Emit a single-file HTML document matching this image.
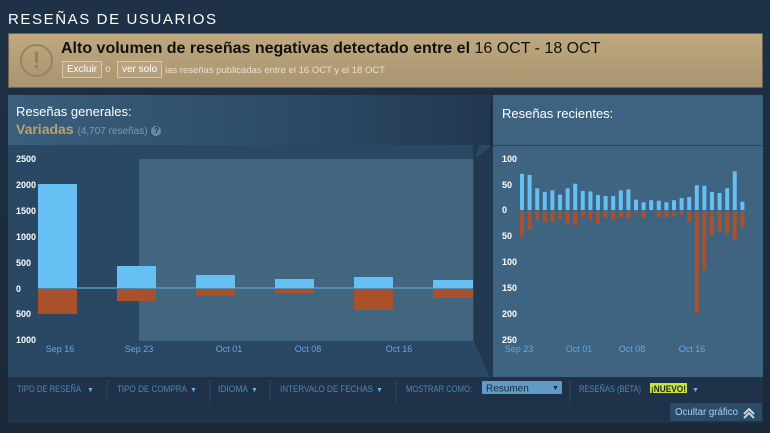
<!DOCTYPE html>
<html><head><meta charset="utf-8"><style>
*{margin:0;padding:0;box-sizing:border-box}
body{width:770px;height:433px;background:#1b2838;font-family:"Liberation Sans",Arial,sans-serif;position:relative;overflow:hidden}
.a{position:absolute;white-space:nowrap}
</style></head><body>
<div class="a" style="left:0;top:0;width:770px;height:433px;background:linear-gradient(#1e3146,#1b2838)"></div>
<div class="a" style="left:8px;top:11px;color:#fff;font-size:15px;letter-spacing:1.6px">RESEÑAS DE USUARIOS</div>
<div class="a" style="left:8px;top:33px;width:755px;height:55px;background:linear-gradient(#c0a97f,#a99470);border:1px solid #6f6250"></div>
<div class="a" style="left:20px;top:44px;width:33px;height:33px;border:2px solid #948466;border-radius:50%;color:#948466;font-size:24px;font-weight:bold;text-align:center;line-height:29px">!</div>
<div class="a" style="left:61px;top:40px;font-size:16px;color:#111"><b>Alto volumen de reseñas negativas detectado entre el</b> 16 OCT - 18 OCT</div>
<div class="a" style="left:62px;top:61px;height:17px;padding:0 4px;border:1px solid #d6c7a8;color:#fff;font-size:10px;line-height:15px;background:rgba(255,255,255,.08)">Excluir</div>
<div class="a" style="left:105px;top:64px;color:#e6dcc6;font-size:10px">o</div>
<div class="a" style="left:117px;top:61px;height:17px;padding:0 4px;border:1px solid #d6c7a8;color:#fff;font-size:10px;line-height:15px;background:rgba(255,255,255,.08)">ver solo</div>
<div class="a" style="left:165px;top:65px;color:#e8dfcc;font-size:9.5px">las reseñas publicadas entre el 16 OCT y el 18 OCT</div>

<div class="a" style="left:8px;top:95px;width:482px;height:50px;background:linear-gradient(90deg,#3a5f7d,#2a4660 70%,#22384f)"></div>
<div class="a" style="left:16px;top:104px;color:#fff;font-size:13px">Reseñas generales:</div>
<div class="a" style="left:16px;top:121px;color:#b9a074;font-size:14px;font-weight:bold">Variadas <span style="font-weight:normal;font-size:10px;color:#7a9bb8">(4,707 reseñas)</span> <span style="display:inline-block;width:10px;height:10px;border-radius:50%;background:#6c8aa3;color:#223;font-size:8px;text-align:center;line-height:10px;vertical-align:1px">?</span></div>
<div class="a" style="left:8px;top:145px;width:482px;height:232px;background:#2a4763"></div>

<div class="a" style="left:493px;top:95px;width:270px;height:50px;background:#3d6381"></div>
<div class="a" style="left:502px;top:106px;color:#fff;font-size:13px">Reseñas recientes:</div>
<div class="a" style="left:493px;top:145px;width:270px;height:232px;background:#3e6482;border-top:1px solid #2a4560"></div>

<svg class="a" style="left:0;top:0" width="770" height="433">
<polygon points="474,159 493,145 493,377 490,377 474,341" fill="#22384f"/>
<polygon points="473,95 493,95 475,159 473,159" fill="#22384f"/>
<rect x="139" y="159" width="334" height="182" fill="#426580"/>
<g font-size="9" fill="#fff" font-weight="bold">
<text x="16" y="162">2500</text><text x="16" y="188">2000</text><text x="16" y="214">1500</text><text x="16" y="240">1000</text><text x="16" y="266">500</text><text x="16" y="292">0</text><text x="16" y="317">500</text><text x="16" y="343">1000</text>
</g>
<line x1="38" y1="288" x2="473" y2="288" stroke="#5a98c0" stroke-width="1.5"/>
<g fill="#66c0f4">
<rect x="38" y="184" width="39" height="104"/><rect x="117" y="266" width="39" height="22"/><rect x="196" y="275" width="39" height="13"/><rect x="275" y="279" width="39" height="9"/><rect x="354" y="277" width="39" height="11"/><rect x="433" y="280" width="40" height="8"/>
</g>
<g fill="#a9512a">
<rect x="38" y="289" width="39" height="25"/><rect x="117" y="289" width="39" height="12"/><rect x="196" y="289" width="39" height="7"/><rect x="275" y="289" width="39" height="4"/><rect x="354" y="289" width="39" height="21"/><rect x="433" y="289" width="40" height="9"/>
</g>
<g font-size="9" fill="#66a8e0" text-anchor="middle">
<text x="60" y="352">Sep 16</text><text x="139" y="352">Sep 23</text><text x="229" y="352">Oct 01</text><text x="308" y="352">Oct 08</text><text x="399" y="352">Oct 16</text>
</g>
<g font-size="9" fill="#fff" font-weight="bold">
<text x="502" y="162">100</text><text x="502" y="188">50</text><text x="502" y="213">0</text><text x="502" y="239">50</text><text x="502" y="265">100</text><text x="502" y="291">150</text><text x="502" y="317">200</text><text x="502" y="343">250</text>
</g>
<g font-size="9" fill="#66a8e0" text-anchor="middle">
<text x="519" y="352">Sep 23</text><text x="579" y="352">Oct 01</text><text x="632" y="352">Oct 08</text><text x="692" y="352">Oct 16</text>
</g>
<g id="rb"></g>
<rect x="8" y="377" width="755" height="46" fill="#1f3249"/>
<g stroke="#2b4560"><line x1="107" y1="380" x2="107" y2="402"/><line x1="210" y1="380" x2="210" y2="402"/><line x1="270" y1="380" x2="270" y2="402"/><line x1="396" y1="380" x2="396" y2="402"/><line x1="570" y1="380" x2="570" y2="402"/></g>
<g font-size="9" fill="#4f86b4">
<text x="17" y="392" textLength="64" lengthAdjust="spacingAndGlyphs">TIPO DE RESEÑA</text>
<text x="117" y="392" textLength="70" lengthAdjust="spacingAndGlyphs">TIPO DE COMPRA</text>
<text x="218" y="392" textLength="30" lengthAdjust="spacingAndGlyphs">IDIOMA</text>
<text x="280" y="392" textLength="93" lengthAdjust="spacingAndGlyphs">INTERVALO DE FECHAS</text>
<text x="406" y="392" textLength="66" lengthAdjust="spacingAndGlyphs">MOSTRAR COMO:</text>
<text x="579" y="392" textLength="62" lengthAdjust="spacingAndGlyphs">RESEÑAS (BETA)</text>
</g>
<g font-size="7" fill="#66b0ee"><text x="87" y="392">▼</text><text x="190" y="392">▼</text><text x="251" y="392">▼</text><text x="376" y="392">▼</text><text x="692" y="392">▼</text></g>
<rect x="482" y="381" width="80" height="13" fill="#5f9bc4" rx="1"/>
<text x="486" y="391.5" font-size="10" fill="#1b2838">Resumen</text><text x="552" y="390" font-size="7" fill="#1b2838">▼</text>
<rect x="650" y="383" width="37" height="10" fill="#c6e534"/>
<text x="651" y="392" font-size="9" fill="#1b2838" font-weight="bold" textLength="35" lengthAdjust="spacingAndGlyphs">¡NUEVO!</text>
<rect x="670" y="403" width="92" height="18" fill="#2c4b66"/>
<text x="675" y="415" font-size="10" fill="#a9d0f0" textLength="63" lengthAdjust="spacingAndGlyphs">Ocultar gráfico</text>
<path d="M744 414 L749 409 L754 414 M744 418 L749 413 L754 418" stroke="#c7d5e0" stroke-width="2" fill="none"/>
</svg>
<script>
var p=[70,68,42,35,38,30,42,51,37,36,29,27,27,38,40,20,15,19,18,15,19,23,25,48,47,35,33,42,75,16];
var n=[50,37,18,22,22,15,25,27,12,18,25,13,18,12,15,5,13,0,12,12,10,8,22,198,115,47,40,45,57,32];
var s='',k=0.516;
for(var i=0;i<30;i++){var x=520+i*7.6;s+='<rect x="'+x+'" y="'+(210-p[i]*k)+'" width="4" height="'+(p[i]*k)+'" fill="#66c0f4"/>';
s+='<rect x="'+x+'" y="211" width="4" height="'+(n[i]*k)+'" fill="#a9512a"/>';}
document.getElementById('rb').innerHTML=s;
</script>
</body></html>
